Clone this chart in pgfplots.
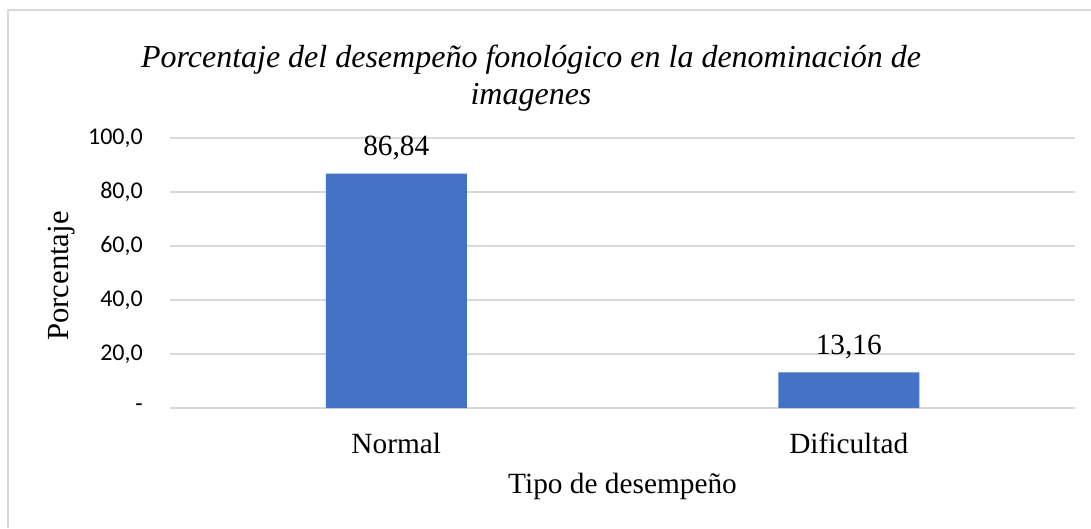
\documentclass[border=0pt]{standalone}
\usepackage{pgfplots}
\pgfplotsset{compat=1.18}
\usepackage{fontspec}
\setmainfont{Liberation Serif}
\newfontfamily\carlito{Carlito}
\definecolor{barblue}{HTML}{4472C4}
\definecolor{gridgray}{HTML}{D9D9D9}
\begin{document}
\begin{tikzpicture}
\path[use as bounding box] (-127.5pt,-90pt) rectangle (690.75pt,306pt);
\fill[white] (-127.5pt,-90pt) rectangle (690.75pt,306pt);
\draw[gridgray, line width=1pt] (-121.5pt,-90pt) -- (-121.5pt,298.5pt) -- (690.75pt,298.5pt);
\begin{axis}[
  scale only axis,
  width=678.75pt, height=202.5pt,
  xmin=-0.5, xmax=1.5,
  ymin=0, ymax=100,
  xtick={0,1},
  xticklabels={Normal,Dificultad},
  ytick={0,20,40,60,80,100},
  yticklabels={{-},{20,0},{40,0},{60,0},{80,0},{100,0}},
  axis line style={draw=none},
  major tick length=0pt,
  ymajorgrids,
  grid style={gridgray, line width=0.9pt},
  yticklabel style={font=\carlito\fontsize{18}{20}\selectfont, anchor=east, inner sep=0pt, xshift=-20.25pt},
  xticklabel style={font=\fontsize{22}{24}\selectfont, anchor=base, inner sep=0pt, yshift=-33.75pt},
  ybar, bar width=105.75pt,
  point meta=explicit symbolic,
  nodes near coords,
  every node near coord/.append style={font=\fontsize{22}{24}\selectfont, anchor=base, inner sep=0pt, yshift=13.5pt, text=black},
  clip=false,
]
\addplot[fill=barblue, draw=none] coordinates {(0,86.84) [86,84] (1,13.16) [13,16]};
\end{axis}
\node[anchor=base, font=\fontsize{24}{27}\selectfont\itshape] at (270.75pt,255pt) {Porcentaje del desempeño fonológico en la denominación de};
\node[anchor=base, font=\fontsize{24}{27}\selectfont\itshape] at (270.75pt,227.25pt) {imagenes};
\node[anchor=base, font=\fontsize{22}{24}\selectfont] at (339.4pt,-63.75pt) {Tipo de desempeño};
\node[anchor=base, rotate=90, font=\fontsize{23}{26}\selectfont] at (-75.75pt,99pt) {Porcentaje};
\end{tikzpicture}
\end{document}
